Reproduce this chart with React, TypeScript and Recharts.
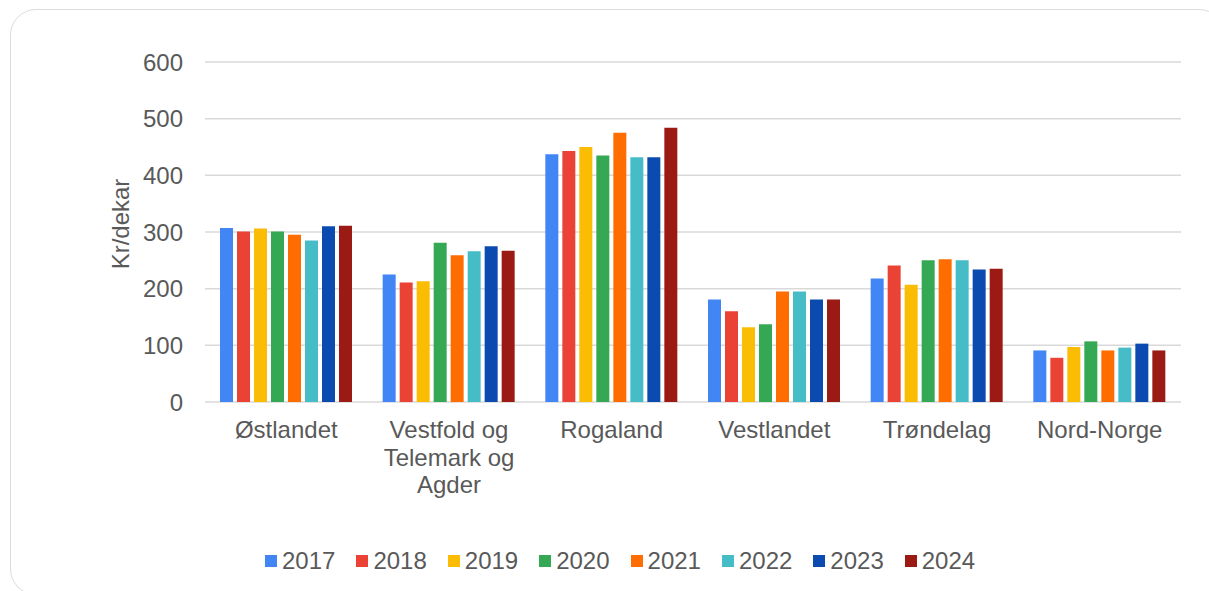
import { Bar, BarChart, CartesianGrid, Legend, XAxis, YAxis } from "recharts";

const regions = [
  "Østlandet",
  "Vestfold og Telemark og Agder",
  "Rogaland",
  "Vestlandet",
  "Trøndelag",
  "Nord-Norge",
];

const years = ["2017", "2018", "2019", "2020", "2021", "2022", "2023", "2024"];

const v2017 = [307, 225, 437, 181, 218, 91];
const v2018 = [301, 211, 443, 160, 241, 78];
const v2019 = [306, 213, 450, 132, 207, 97];
const v2020 = [301, 281, 435, 137, 250, 107];
const v2021 = [295, 259, 475, 195, 252, 91];
const v2022 = [285, 266, 432, 195, 250, 96];
const v2023 = [310, 275, 432, 181, 234, 103];
const v2024 = [311, 267, 484, 181, 235, 91];

const yTicks = [0, 100, 200, 300, 400, 500, 600];

const colors = [
  "#4285F4",
  "#EA4335",
  "#FBBC04",
  "#34A853",
  "#FF6D01",
  "#46BDC6",
  "#0B4BAF",
  "#9B1B14",
];

const series = [v2017, v2018, v2019, v2020, v2021, v2022, v2023, v2024];

const data = regions.map((name, i) => {
  const row: Record<string, string | number> = { name };
  years.forEach((y, s) => {
    row[y] = series[s][i];
  });
  return row;
});

const FONT = "'Liberation Sans', Arial, sans-serif";
const GREY = "#595959";

// greedy word wrap, roughly 12 characters a line
function wrap(label: string, max = 12) {
  const lines: string[] = [];
  let cur = "";
  for (const w of label.split(" ")) {
    const next = cur ? cur + " " + w : w;
    if (next.length > max && cur) {
      lines.push(cur);
      cur = w;
    } else {
      cur = next;
    }
  }
  if (cur) lines.push(cur);
  return lines;
}

function RegionTick(props: any) {
  const { x, y, payload } = props;
  const lines = wrap(payload.value);
  return (
    <text
      x={x}
      y={y + 36}
      textAnchor="middle"
      fill={GREY}
      fontSize={24}
      fontFamily={FONT}
    >
      {lines.map((l, i) => (
        <tspan key={i} x={x} dy={i === 0 ? 0 : 27.5}>
          {l}
        </tspan>
      ))}
    </text>
  );
}

function YearLegend() {
  return (
    <div
      style={{
        display: "flex",
        alignItems: "center",
        height: 30,
        fontFamily: FONT,
        fontSize: 24,
        color: GREY,
      }}
    >
      {years.map((y, i) => (
        <div key={y} style={{ display: "flex", alignItems: "center", marginRight: 21 }}>
          <span
            style={{ width: 12, height: 12, background: colors[i], marginRight: 5 }}
          />
          <span>{y}</span>
        </div>
      ))}
    </div>
  );
}

export default function App() {
  return (
    <div
      style={{
        position: "fixed",
        left: 0,
        top: 0,
        width: 1209,
        height: 591,
        overflow: "hidden",
        background: "#fff",
      }}
    >
      <div
        style={{
          position: "absolute",
          left: 10,
          top: 9,
          width: 1213,
          height: 584,
          border: "1.5px solid #dcdcdc",
          borderRadius: 26,
        }}
      />
      <div style={{ position: "absolute", left: 0, top: 0 }}>
        <BarChart
          width={1209}
          height={591}
          data={data}
          margin={{ top: 62, right: 28, left: 105, bottom: 15 }}
          barCategoryGap={15}
          barGap={4}
        >
          <CartesianGrid vertical={false} stroke="#d9d9d9" strokeWidth={1.5} />
          <XAxis
            dataKey="name"
            axisLine={false}
            tickLine={false}
            tickSize={0}
            tickMargin={0}
            height={144}
            interval={0}
            tick={<RegionTick />}
          />
          <YAxis
            width={100}
            domain={[0, 600]}
            ticks={yTicks}
            axisLine={false}
            tickLine={false}
            tickMargin={16}
            tick={{ fill: GREY, fontSize: 24, fontFamily: FONT }}
            label={{
              value: "Kr/dekar",
              content: (p: any) => {
                const vb = p.viewBox;
                const cx = vb.x + 24;
                const cy = vb.y + vb.height / 2 - 8;
                return (
                  <text
                    x={cx}
                    y={cy}
                    transform={`rotate(-90, ${cx}, ${cy})`}
                    textAnchor="middle"
                    fill={GREY}
                    fontSize={24}
                    fontFamily={FONT}
                  >
                    Kr/dekar
                  </text>
                );
              },
            }}
          />
          <Legend
            verticalAlign="bottom"
            content={<YearLegend />}
            wrapperStyle={{ left: 265, width: 760 }}
          />
          {years.map((y, i) => (
            <Bar key={y} dataKey={y} fill={colors[i]} isAnimationActive={false} />
          ))}
        </BarChart>
      </div>
    </div>
  );
}
